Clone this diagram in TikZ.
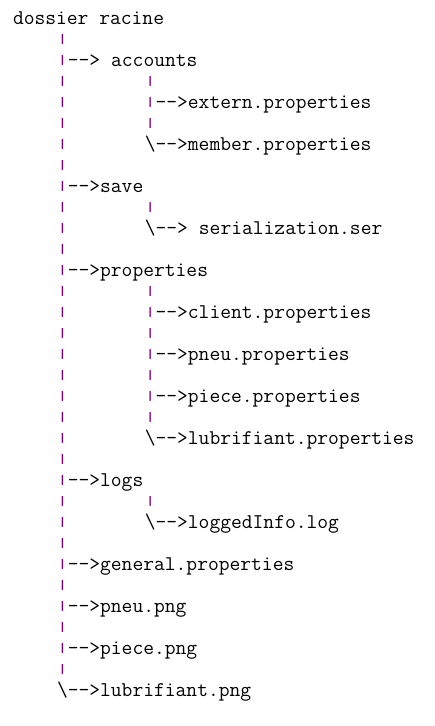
\documentclass[tikz,border=0pt]{standalone}
\usepackage{fontspec}
\usepackage{graphicx}
\definecolor{pipecol}{HTML}{800080}
\newlength\tcw \setlength\tcw{11pt}
\newcommand\tsk[1]{\hspace*{#1\tcw}}
\newcommand\tpipe{\textcolor{pipecol}{\raisebox{1.3pt}{\scalebox{1}[0.63]{|}}}}
\newcommand\tbs{\textbackslash}
\newcommand\tarrow{-{}-{}>}
\begin{document}
\begin{tikzpicture}[x=1pt,y=-1pt,
  treeline/.style={anchor=base west, inner sep=0pt, outer sep=0pt,
    font=\ttfamily\fontsize{20.95}{21}\selectfont}]
\useasboundingbox[fill=white] (0,0) rectangle (434,726);
\node[treeline] (l1)  at (13,24)  {dossier racine};
\node[treeline] (l2)  at (13,45)  {\tsk{4}\tpipe};
\node[treeline] (l3)  at (13,66)  {\tsk{4}\tpipe\tarrow\tsk{1}accounts};
\node[treeline] (l4)  at (13,87)  {\tsk{4}\tpipe\tsk{7}\tpipe};
\node[treeline] (l5)  at (13,108) {\tsk{4}\tpipe\tsk{7}\tpipe\tarrow{}extern.properties};
\node[treeline] (l6)  at (13,129) {\tsk{4}\tpipe\tsk{7}\tpipe};
\node[treeline] (l7)  at (13,150) {\tsk{4}\tpipe\tsk{7}\tbs\tarrow{}member.properties};
\node[treeline] (l8)  at (13,171) {\tsk{4}\tpipe};
\node[treeline] (l9)  at (13,192) {\tsk{4}\tpipe\tarrow{}save};
\node[treeline] (l10) at (13,213) {\tsk{4}\tpipe\tsk{7}\tpipe};
\node[treeline] (l11) at (13,234) {\tsk{4}\tpipe\tsk{7}\tbs\tarrow\tsk{1}serialization.ser};
\node[treeline] (l12) at (13,255) {\tsk{4}\tpipe};
\node[treeline] (l13) at (13,276) {\tsk{4}\tpipe\tarrow{}properties};
\node[treeline] (l14) at (13,297) {\tsk{4}\tpipe\tsk{7}\tpipe};
\node[treeline] (l15) at (13,318) {\tsk{4}\tpipe\tsk{7}\tpipe\tarrow{}client.properties};
\node[treeline] (l16) at (13,339) {\tsk{4}\tpipe\tsk{7}\tpipe};
\node[treeline] (l17) at (13,360) {\tsk{4}\tpipe\tsk{7}\tpipe\tarrow{}pneu.properties};
\node[treeline] (l18) at (13,381) {\tsk{4}\tpipe\tsk{7}\tpipe};
\node[treeline] (l19) at (13,402) {\tsk{4}\tpipe\tsk{7}\tpipe\tarrow{}piece.properties};
\node[treeline] (l20) at (13,423) {\tsk{4}\tpipe\tsk{7}\tpipe};
\node[treeline] (l21) at (13,444) {\tsk{4}\tpipe\tsk{7}\tbs\tarrow{}lubrifiant.properties};
\node[treeline] (l22) at (13,465) {\tsk{4}\tpipe};
\node[treeline] (l23) at (13,486) {\tsk{4}\tpipe\tarrow{}logs};
\node[treeline] (l24) at (13,507) {\tsk{4}\tpipe\tsk{7}\tpipe};
\node[treeline] (l25) at (13,528) {\tsk{4}\tpipe\tsk{7}\tbs\tarrow{}loggedInfo.log};
\node[treeline] (l26) at (13,549) {\tsk{4}\tpipe};
\node[treeline] (l27) at (13,570) {\tsk{4}\tpipe\tarrow{}general.properties};
\node[treeline] (l28) at (13,591) {\tsk{4}\tpipe};
\node[treeline] (l29) at (13,612) {\tsk{4}\tpipe\tarrow{}pneu.png};
\node[treeline] (l30) at (13,633) {\tsk{4}\tpipe};
\node[treeline] (l31) at (13,654) {\tsk{4}\tpipe\tarrow{}piece.png};
\node[treeline] (l32) at (13,675) {\tsk{4}\tpipe};
\node[treeline] (l33) at (13,696) {\tsk{4}\tbs\tarrow{}lubrifiant.png};
\end{tikzpicture}
\end{document}
